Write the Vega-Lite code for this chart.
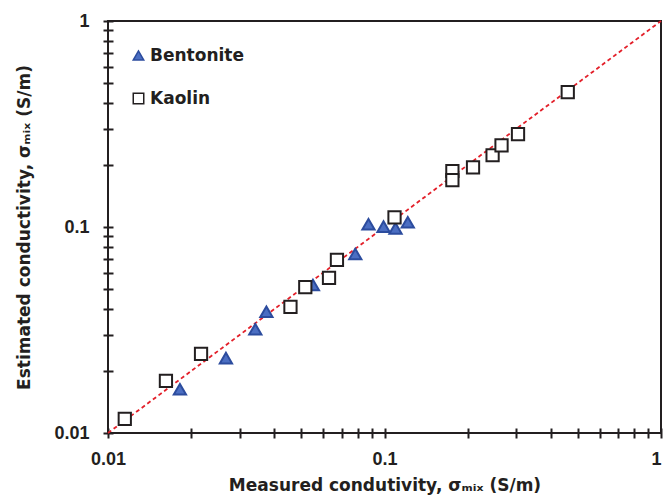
{
  "$schema": "https://vega.github.io/schema/vega-lite/v6.json",
  "width": 553,
  "height": 412,
  "autosize": {"type": "none"},
  "padding": {"left": 108, "top": 21, "right": 4, "bottom": 63},
  "background": "#ffffff",
  "config": {
    "font": "DejaVu Sans",
    "view": {"stroke": "#231f20", "strokeWidth": 2},
    "axis": {
      "domain": false,
      "grid": false,
      "offset": -5,
      "tickSize": 10,
      "tickWidth": 2,
      "tickColor": "#231f20",
      "labelFont": "Liberation Sans",
      "labelFontSize": 18,
      "labelFontWeight": "bold",
      "labelColor": "#231f20",
      "labelFlush": false,
      "labelOverlap": false,
      "titleFont": "DejaVu Sans",
      "titleFontSize": 17,
      "titleFontWeight": "bold",
      "titleColor": "#231f20"
    }
  },
  "data": {
    "values": [
      {"soil": "Bentonite", "measured": 0.0182, "estimated": 0.0163},
      {"soil": "Bentonite", "measured": 0.0267, "estimated": 0.0231},
      {"soil": "Bentonite", "measured": 0.0341, "estimated": 0.0319},
      {"soil": "Bentonite", "measured": 0.0374, "estimated": 0.0388},
      {"soil": "Bentonite", "measured": 0.0551, "estimated": 0.0523},
      {"soil": "Bentonite", "measured": 0.0784, "estimated": 0.0739},
      {"soil": "Bentonite", "measured": 0.0875, "estimated": 0.1031},
      {"soil": "Bentonite", "measured": 0.0992, "estimated": 0.1004},
      {"soil": "Bentonite", "measured": 0.1096, "estimated": 0.0985},
      {"soil": "Bentonite", "measured": 0.1214, "estimated": 0.1054},
      {"soil": "Kaolin", "measured": 0.0115, "estimated": 0.0117},
      {"soil": "Kaolin", "measured": 0.0162, "estimated": 0.0179},
      {"soil": "Kaolin", "measured": 0.0217, "estimated": 0.0242},
      {"soil": "Kaolin", "measured": 0.0457, "estimated": 0.041},
      {"soil": "Kaolin", "measured": 0.0517, "estimated": 0.051},
      {"soil": "Kaolin", "measured": 0.063, "estimated": 0.0567},
      {"soil": "Kaolin", "measured": 0.0673, "estimated": 0.0692},
      {"soil": "Kaolin", "measured": 0.1087, "estimated": 0.1114},
      {"soil": "Kaolin", "measured": 0.176, "estimated": 0.187},
      {"soil": "Kaolin", "measured": 0.176, "estimated": 0.169},
      {"soil": "Kaolin", "measured": 0.209, "estimated": 0.195},
      {"soil": "Kaolin", "measured": 0.246, "estimated": 0.223},
      {"soil": "Kaolin", "measured": 0.265, "estimated": 0.249},
      {"soil": "Kaolin", "measured": 0.304, "estimated": 0.282},
      {"soil": "Kaolin", "measured": 0.46, "estimated": 0.452}
    ]
  },
  "encoding": {
    "x": {
      "field": "measured",
      "type": "quantitative",
      "scale": {"type": "log", "domain": [0.01, 1], "nice": false},
      "axis": {
        "title": "Measured condutivity, σₘᵢₓ (S/m)",
        "values": [0.01, 0.02, 0.03, 0.04, 0.05, 0.06, 0.07, 0.08, 0.09, 0.1, 0.2, 0.3, 0.4, 0.5, 0.6, 0.7, 0.8, 0.9, 1],
        "format": "~g",
        "labelExpr": "indexof([0.01, 0.1, 1], datum.value) >= 0 ? datum.label : ''",
        "labelAlign": {"condition": {"test": "datum.value == 1", "value": "right"}, "value": "center"},
        "labelPadding": 12,
        "titlePadding": 9
      }
    },
    "y": {
      "field": "estimated",
      "type": "quantitative",
      "scale": {"type": "log", "domain": [0.01, 1], "nice": false},
      "axis": {
        "title": "Estimated conductivity, σₘᵢₓ (S/m)",
        "values": [0.01, 0.02, 0.03, 0.04, 0.05, 0.06, 0.07, 0.08, 0.09, 0.1, 0.2, 0.3, 0.4, 0.5, 0.6, 0.7, 0.8, 0.9, 1],
        "format": "~g",
        "labelExpr": "indexof([0.01, 0.1, 1], datum.value) >= 0 ? datum.label : ''",
        "labelPadding": 14,
        "titlePadding": 20
      }
    }
  },
  "layer": [
    {
      "data": {"values": [{"measured": 0.01, "estimated": 0.01}, {"measured": 1, "estimated": 1}]},
      "mark": {"type": "line", "color": "#e3202a", "strokeWidth": 1.8, "strokeDash": [4, 3]}
    },
    {
      "mark": {"type": "point", "filled": true, "size": 150, "strokeWidth": 2, "opacity": 1},
      "encoding": {
        "shape": {
          "field": "soil",
          "type": "nominal",
          "scale": {"domain": ["Bentonite", "Kaolin"], "range": ["triangle-up", "square"]},
          "legend": {
            "title": null,
            "orient": "none",
            "legendX": 22,
            "legendY": 26,
            "symbolSize": 110,
            "symbolStrokeWidth": 1.5,
            "labelFont": "DejaVu Sans",
            "labelFontSize": 17,
            "labelFontWeight": "bold",
            "labelColor": "#231f20",
            "labelOffset": 3,
            "rowPadding": 25
          }
        },
        "fill": {
          "field": "soil",
          "type": "nominal",
          "scale": {"domain": ["Bentonite", "Kaolin"], "range": ["#4b6ec2", "#ffffff"]},
          "legend": null
        },
        "stroke": {
          "field": "soil",
          "type": "nominal",
          "scale": {"domain": ["Bentonite", "Kaolin"], "range": ["#2c4c9e", "#231f20"]},
          "legend": null
        }
      }
    }
  ]
}
